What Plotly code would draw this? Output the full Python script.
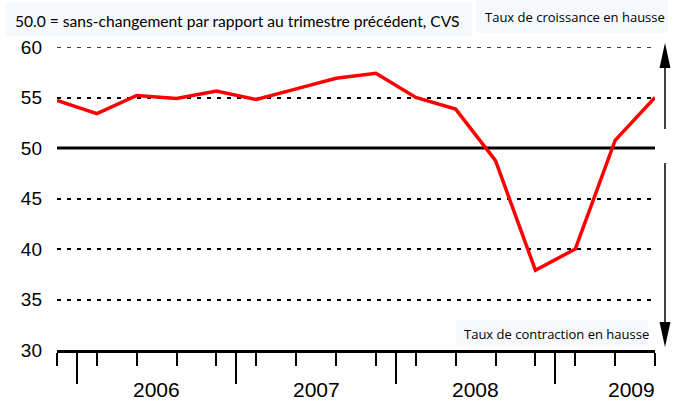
import plotly.graph_objects as go

# ---- data ----
quarters = ["2005T4", "2006T1", "2006T2", "2006T3", "2006T4",
            "2007T1", "2007T2", "2007T3", "2007T4",
            "2008T1", "2008T2", "2008T3", "2008T4",
            "2009T1", "2009T2", "2009T3"]
values = [54.7, 53.4, 55.2, 54.9, 55.65, 54.8, 55.85, 56.9, 57.4,
          55.0, 53.85, 48.75, 37.9, 40.0, 50.75, 55.0]
years = ["2006", "2007", "2008", "2009"]
year_label_pos = [2.5, 6.5, 10.5, 14.4]
year_bounds = [0.5, 4.5, 8.5, 12.5]
y_ticks = [30, 35, 40, 45, 50, 55, 60]
subtitle = "50.0 = sans-changement par rapport au trimestre précédent, CVS"
up_label = "Taux de croissance en hausse"
down_label = "Taux de contraction en hausse"

W, H = 678, 401
L, R, T, B = 57, 23, 47, 51
PW, PH = W - L - R, H - T - B


def px(x):
    return (x - L) / PW


def py(y):
    return (H - B - y) / PH


x = list(range(len(quarters)))

fig = go.Figure()
fig.add_trace(go.Scatter(x=x, y=values, mode="lines",
                         line=dict(color="#ff0000", width=3.5),
                         hoverinfo="skip", showlegend=False,
                         cliponaxis=False))

shapes = []
# 50 reference line
shapes.append(dict(type="line", xref="x", yref="y", x0=0, x1=len(quarters) - 1,
                   y0=50, y1=50, line=dict(color="black", width=3), layer="below"))
# top dashed gridline (at the range edge)
shapes.append(dict(type="line", xref="x", yref="y", x0=0, x1=len(quarters) - 1,
                   y0=y_ticks[-1], y1=y_ticks[-1],
                   line=dict(color="black", width=1.5, dash="4px,6px"), layer="below"))
# background boxes
box_col = "#f5f9fc"
for (x0, y0, x1, y1) in [(6, 3, 472, 36), (476, 0, 668, 33), (456, 320, 648, 346)]:
    shapes.append(dict(type="rect", xref="paper", yref="paper",
                       x0=px(x0), x1=px(x1), y0=py(y1), y1=py(y0),
                       fillcolor=box_col, line=dict(width=0), layer="below"))
# arrows
ax = 665
shapes.append(dict(type="line", xref="paper", yref="paper", x0=px(ax), x1=px(ax),
                   y0=py(129), y1=py(62), line=dict(color="black", width=1.5)))
shapes.append(dict(type="path", xref="paper", yref="paper",
                   path=f"M {px(ax)} {py(43)} L {px(ax-5.5)} {py(68)} L {px(ax+5.5)} {py(68)} Z",
                   fillcolor="black", line=dict(width=0)))
shapes.append(dict(type="line", xref="paper", yref="paper", x0=px(ax), x1=px(ax),
                   y0=py(163), y1=py(328), line=dict(color="black", width=1.5)))
shapes.append(dict(type="path", xref="paper", yref="paper",
                   path=f"M {px(ax)} {py(347)} L {px(ax-5.5)} {py(322)} L {px(ax+5.5)} {py(322)} Z",
                   fillcolor="black", line=dict(width=0)))

annotations = []
for yr, pos in zip(years, year_label_pos):
    annotations.append(dict(x=pos, y=py(389), xref="x", yref="paper", text=yr,
                            showarrow=False, xanchor="center", yanchor="middle",
                            font=dict(family="Liberation Sans", size=21, color="black")))
annotations.append(dict(x=px(13), y=py(21), xref="paper", yref="paper", text=subtitle,
                        showarrow=False, xanchor="left", yanchor="middle",
                        font=dict(family="Lato", size=15.6, color="black")))
annotations.append(dict(x=px(483), y=py(17), xref="paper", yref="paper", text=up_label,
                        showarrow=False, xanchor="left", yanchor="middle",
                        font=dict(family="Open Sans", size=13, color="black")))
annotations.append(dict(x=px(462), y=py(334), xref="paper", yref="paper", text=down_label,
                        showarrow=False, xanchor="left", yanchor="middle",
                        font=dict(family="Open Sans", size=13, color="black")))

fig.update_layout(
    width=W, height=H,
    margin=dict(l=L, r=R, t=T, b=B, pad=0),
    paper_bgcolor="white", plot_bgcolor="white",
    shapes=shapes, annotations=annotations,
    showlegend=False,
    xaxis=dict(range=[0, len(quarters) - 1], showgrid=False, zeroline=False,
               showline=True, linecolor="black", linewidth=3,
               tickmode="array", tickvals=year_bounds, ticks="outside",
               ticklen=31, tickwidth=2, tickcolor="black", showticklabels=False,
               minor=dict(tickmode="array", tickvals=x, ticks="outside",
                          ticklen=13, tickwidth=2, tickcolor="black", showgrid=False)),
    yaxis=dict(range=[30, 60], tickmode="array", tickvals=y_ticks,
               showgrid=True, gridcolor="black", gridwidth=1.5, griddash="4px,6px",
               zeroline=False, showline=False, ticks="",
               ticklabelstandoff=14,
               tickfont=dict(family="Liberation Sans", size=19, color="black")),
)

fig.write_html("out.html", config={"displayModeBar": False},
               post_script="document.body.style.margin='0px';"
                           "document.body.style.overflow='hidden';")
